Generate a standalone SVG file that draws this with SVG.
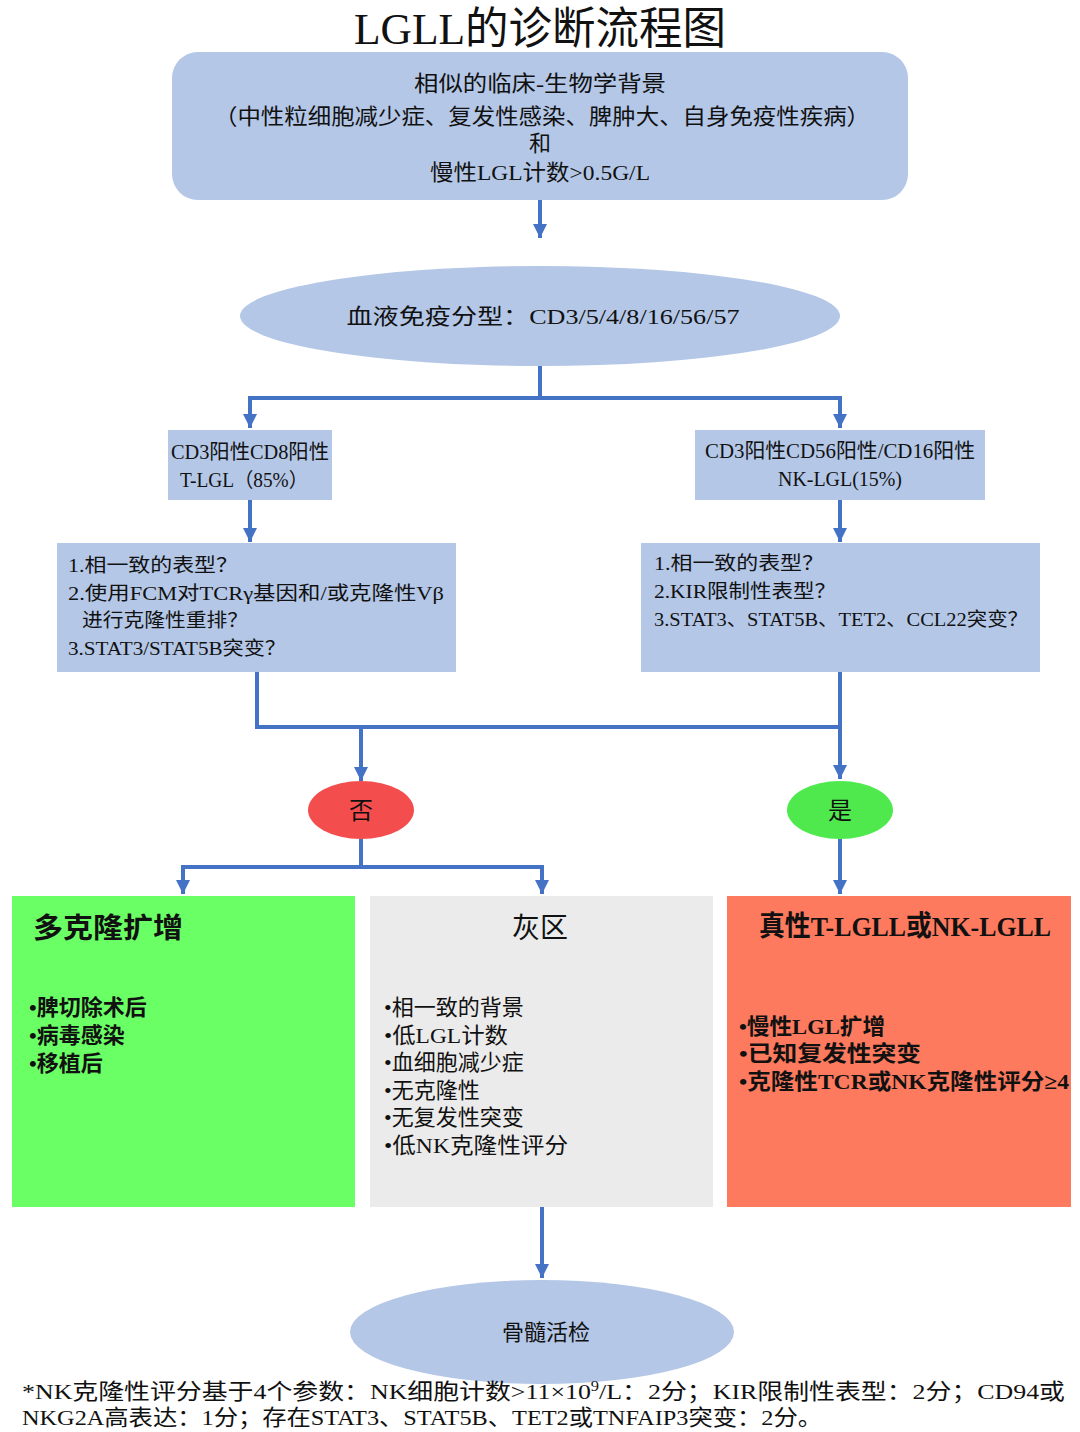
<svg xmlns="http://www.w3.org/2000/svg" width="1080" height="1432" viewBox="0 0 1080 1432">
<style>
text{font-family:'Liberation Serif','Noto Sans CJK SC',serif;fill:#111;}
.c{text-anchor:middle;}
.blue{fill:#b4c7e7;}
.conn{fill:none;stroke:#4472c4;stroke-width:4;}
.t22{font-size:22px;}
.t20{font-size:20px;}
.t19{font-size:19px;}
.t28{font-size:28px;}
.b{font-weight:bold;}
</style>
<defs>
<marker id="ah" markerUnits="userSpaceOnUse" markerWidth="16" markerHeight="16" viewBox="0 0 16 16" refX="14" refY="8" orient="auto">
<path d="M0,1 L14,8 L0,15 Z" fill="#4472c4"/>
</marker>
</defs>
<rect width="1080" height="1432" fill="#fff"/>
<text id="title" x="540" y="44" class="c" font-size="44" textLength="372" lengthAdjust="spacingAndGlyphs">LGLL的诊断流程图</text>

<g id="connectors">
<path class="conn" d="M540,200 V238" marker-end="url(#ah)"/>
<path class="conn" d="M540,366 V398 H250 V428" marker-end="url(#ah)"/>
<path class="conn" d="M538,398 H840 V428" marker-end="url(#ah)"/>
<path class="conn" d="M250,500 V542" marker-end="url(#ah)"/>
<path class="conn" d="M840,500 V542" marker-end="url(#ah)"/>
<path class="conn" d="M257,672 V727 H840"/>
<path class="conn" d="M840,672 V779" marker-end="url(#ah)"/>
<path class="conn" d="M361,727 V781" marker-end="url(#ah)"/>
<path class="conn" d="M361,839 V867 H183 V894" marker-end="url(#ah)"/>
<path class="conn" d="M359,867 H542 V894" marker-end="url(#ah)"/>
<path class="conn" d="M840,839 V894" marker-end="url(#ah)"/>
<path class="conn" d="M542,1207 V1278" marker-end="url(#ah)"/>
</g>

<g id="background">
<rect class="blue" x="172" y="52" width="736" height="148" rx="26"/>
<text class="c t22" x="540" y="91" textLength="252" lengthAdjust="spacingAndGlyphs">相似的临床-生物学背景</text>
<text class="c t22" x="542" y="124" textLength="656" lengthAdjust="spacingAndGlyphs">（中性粒细胞减少症、复发性感染、脾肿大、自身免疫性疾病）</text>
<text class="c t22" x="540" y="151">和</text>
<text class="c t22" x="540" y="180" textLength="220" lengthAdjust="spacingAndGlyphs">慢性LGL计数&gt;0.5G/L</text>
</g>

<g id="immunophenotype">
<ellipse class="blue" cx="540" cy="316" rx="300" ry="50"/>
<text class="c t22" x="543" y="324" textLength="393" lengthAdjust="spacingAndGlyphs">血液免疫分型：CD3/5/4/8/16/56/57</text>
</g>

<g id="tlgl">
<rect class="blue" x="168" y="430" width="164" height="70"/>
<text class="c t20" x="250" y="459" textLength="158" lengthAdjust="spacingAndGlyphs">CD3阳性CD8阳性</text>
<text class="c t20" x="244" y="487" textLength="128" lengthAdjust="spacingAndGlyphs">T-LGL（85%）</text>
</g>

<g id="nklgl">
<rect class="blue" x="695" y="430" width="290" height="70"/>
<text class="c t20" x="840" y="458" textLength="270" lengthAdjust="spacingAndGlyphs">CD3阳性CD56阳性/CD16阳性</text>
<text class="c t20" x="840" y="486" textLength="124" lengthAdjust="spacingAndGlyphs">NK-LGL(15%)</text>
</g>

<g id="tcheck">
<rect class="blue" x="57" y="543" width="399" height="129"/>
<text class="t19" x="68" y="572" textLength="170" lengthAdjust="spacingAndGlyphs">1.相一致的表型？</text>
<text class="t19" x="68" y="600" textLength="376" lengthAdjust="spacingAndGlyphs">2.使用FCM对TCRγ基因和/或克隆性Vβ</text>
<text class="t19" x="82" y="627" textLength="166" lengthAdjust="spacingAndGlyphs">进行克隆性重排？</text>
<text class="t19" x="68" y="655" textLength="218" lengthAdjust="spacingAndGlyphs">3.STAT3/STAT5B突变？</text>
</g>

<g id="nkcheck">
<rect class="blue" x="641" y="543" width="399" height="129"/>
<text class="t19" x="654" y="570" textLength="170" lengthAdjust="spacingAndGlyphs">1.相一致的表型？</text>
<text class="t19" x="654" y="598" textLength="182" lengthAdjust="spacingAndGlyphs">2.KIR限制性表型？</text>
<text class="t19" x="654" y="626" textLength="374" lengthAdjust="spacingAndGlyphs">3.STAT3、STAT5B、TET2、CCL22突变？</text>
</g>

<g id="no">
<ellipse cx="361" cy="810" rx="53" ry="29" fill="#f44d4d"/>
<text class="c" font-size="24" x="361" y="819">否</text>
</g>

<g id="yes">
<ellipse cx="840" cy="810" rx="53" ry="29" fill="#4fe84d"/>
<text class="c" font-size="24" x="840" y="819">是</text>
</g>

<g id="polyclonal">
<rect x="12" y="896" width="343" height="311" fill="#6bff66"/>
<text class="t28 b" x="33" y="938" textLength="150" lengthAdjust="spacingAndGlyphs">多克隆扩增</text>
<text class="t22 b" x="29" y="1015">•脾切除术后</text>
<text class="t22 b" x="29" y="1043">•病毒感染</text>
<text class="t22 b" x="29" y="1071">•移植后</text>
</g>

<g id="grayzone">
<rect x="370" y="896" width="343" height="311" fill="#ebebeb"/>
<text class="c t28" x="540" y="938">灰区</text>
<text class="t22" x="384" y="1015">•相一致的背景</text>
<text class="t22" x="384" y="1043" textLength="124" lengthAdjust="spacingAndGlyphs">•低LGL计数</text>
<text class="t22" x="384" y="1070">•血细胞减少症</text>
<text class="t22" x="384" y="1098">•无克隆性</text>
<text class="t22" x="384" y="1125">•无复发性突变</text>
<text class="t22" x="384" y="1153" textLength="184" lengthAdjust="spacingAndGlyphs">•低NK克隆性评分</text>
</g>

<g id="truelgll">
<rect x="727" y="896" width="344" height="311" fill="#fd7a5e"/>
<text class="c t28 b" x="905" y="936" textLength="292" lengthAdjust="spacingAndGlyphs">真性T-LGLL或NK-LGLL</text>
<text class="t22 b" x="739" y="1034" textLength="146" lengthAdjust="spacingAndGlyphs">•慢性LGL扩增</text>
<text class="t22 b" x="739" y="1061" textLength="182" lengthAdjust="spacingAndGlyphs">•已知复发性突变</text>
<text class="t22 b" x="739" y="1089" textLength="330" lengthAdjust="spacingAndGlyphs">•克隆性TCR或NK克隆性评分≥4</text>
</g>

<g id="biopsy">
<ellipse class="blue" cx="542" cy="1332" rx="192" ry="52"/>
<text class="c t22" x="546" y="1340">骨髓活检</text>
</g>

<g id="footnote">
<text class="t22" x="22" y="1399" textLength="1043" lengthAdjust="spacingAndGlyphs">*NK克隆性评分基于4个参数：NK细胞计数&gt;11×10<tspan font-size="14" dy="-8">9</tspan><tspan dy="8">/L：2分；KIR限制性表型：2分；CD94或</tspan></text>
<text class="t22" x="22" y="1425" textLength="800" lengthAdjust="spacingAndGlyphs">NKG2A高表达：1分；存在STAT3、STAT5B、TET2或TNFAIP3突变：2分。</text>
</g>
</svg>
